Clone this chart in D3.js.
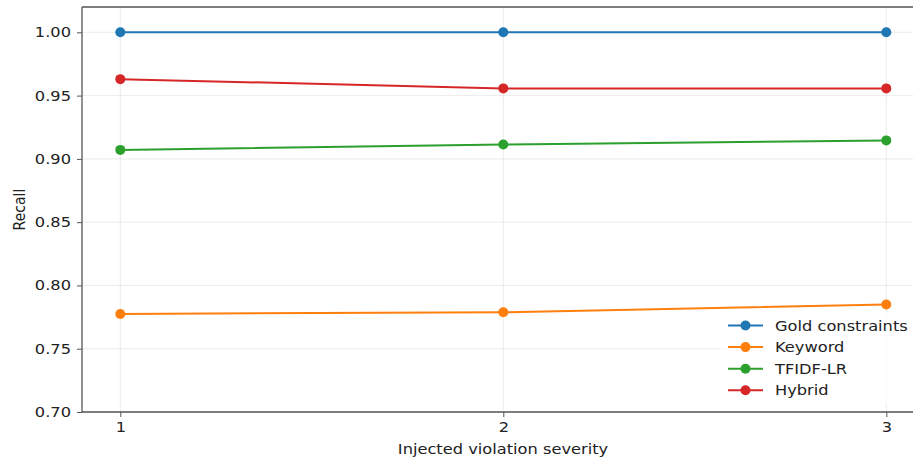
<!DOCTYPE html>
<html><head><meta charset="utf-8">
<script src="https://cdn.jsdelivr.net/npm/d3@7"></script>
<style>body{margin:0;background:#fff}svg{display:block}text{font-family:"DejaVu Sans",sans-serif}</style>
</head><body>
<script>
const severities = [1, 2, 3];
const seriesNames = ["Gold constraints", "Keyword", "TFIDF-LR", "Hybrid"];
const goldValues = [1.0, 1.0, 1.0];
const keywordValues = [0.7775, 0.7788, 0.7850];
const tfidfValues = [0.9071, 0.9114, 0.9146];
const hybridValues = [0.9630, 0.9557, 0.9557];
const colors = ["#1f77b4", "#ff7f0e", "#2ca02c", "#d62728"];
const yTicks = [0.70, 0.75, 0.80, 0.85, 0.90, 0.95, 1.00];
const xTicks = [1, 2, 3];

(function () {
const allValues = [goldValues, keywordValues, tfidfValues, hybridValues];
const W = 913, H = 459, SX = 1.16, FS = 14;
const svg = d3.select("body").append("svg").attr("width", W).attr("height", H);
const pLeft = 82, pTop = 7, pBottom = 412;
const x = d3.scaleLinear().domain([0.9, 3.1]).range([pLeft, pLeft + 383 * 2.2]);
const y = d3.scaleLinear().domain([0.70, 1.02]).range([pBottom, pTop]);

function label(px, py, str, anchor, rot) {
  return svg.append("text")
    .attr("transform", `translate(${px},${py})` + (rot ? ` rotate(${rot}) scale(1,${SX})` : ` scale(${SX},1)`))
    .attr("text-anchor", anchor).attr("font-size", FS).attr("fill", "#222").text(str);
}

// grid
const g = svg.append("g");
g.selectAll(".gy").data(yTicks).enter().append("line")
  .attr("x1", pLeft).attr("x2", W).attr("y1", d => y(d)).attr("y2", d => y(d))
  .attr("stroke", "#b0b0b0").attr("stroke-opacity", 0.3).attr("stroke-width", 0.8);
g.selectAll(".gx").data(xTicks).enter().append("line")
  .attr("y1", pTop).attr("y2", pBottom).attr("x1", d => x(d)).attr("x2", d => x(d))
  .attr("stroke", "#b0b0b0").attr("stroke-opacity", 0.3).attr("stroke-width", 0.8);

// lines
const line = d3.line().x((d, i) => x(severities[i])).y(d => y(d));
allValues.forEach((vals, k) => {
  svg.append("path").datum(vals).attr("d", line).attr("fill", "none")
    .attr("stroke", colors[k]).attr("stroke-width", 2);
  svg.selectAll(".m" + k).data(vals).enter().append("circle")
    .attr("cx", (d, i) => x(severities[i])).attr("cy", d => y(d)).attr("r", 5)
    .attr("fill", colors[k]);
});

// spines
svg.append("line").attr("x1", pLeft).attr("x2", pLeft).attr("y1", pTop).attr("y2", pBottom).attr("stroke", "#555").attr("stroke-width", 1.3);
svg.append("line").attr("x1", pLeft).attr("x2", W).attr("y1", pBottom).attr("y2", pBottom).attr("stroke", "#555").attr("stroke-width", 1.3);
svg.append("line").attr("x1", pLeft).attr("x2", W).attr("y1", pTop).attr("y2", pTop).attr("stroke", "#555").attr("stroke-width", 1.3);

// axes
const yAxis = d3.axisLeft(y).tickValues(yTicks).tickFormat(d3.format(".2f")).tickSize(5).tickPadding(6);
const ya = svg.append("g").attr("transform", `translate(${pLeft},0)`).call(yAxis);
const xAxis = d3.axisBottom(x).tickValues(xTicks).tickFormat(d3.format("d")).tickSize(5).tickPadding(5);
const xa = svg.append("g").attr("transform", `translate(0,${pBottom})`).call(xAxis);
[ya, xa].forEach(a => {
  a.select(".domain").remove();
  a.selectAll("line").attr("stroke", "#555").attr("stroke-width", 1);
  a.selectAll("text").attr("font-size", FS).attr("fill", "#222").attr("font-family", "DejaVu Sans");
});
ya.selectAll("text").attr("x", -11 / SX).attr("transform", `scale(${SX},1)`);
xa.selectAll("text").attr("transform", `scale(${SX},1)`);

label(503, 454, "Injected violation severity", "middle");
label(25, (pTop + pBottom) / 2, "Recall", "middle", -90);

// legend
const lg = svg.append("g");
lg.append("rect").attr("x", 721).attr("y", 312).attr("width", 200).attr("height", 92)
  .attr("fill", "#fff").attr("fill-opacity", 0.8).attr("stroke", "none");
seriesNames.forEach((name, k) => {
  const yy = 325.5 + k * 21.6;
  lg.append("line").attr("x1", 728).attr("x2", 763).attr("y1", yy).attr("y2", yy)
    .attr("stroke", colors[k]).attr("stroke-width", 2);
  lg.append("circle").attr("cx", 745.5).attr("cy", yy).attr("r", 5).attr("fill", colors[k]);
  svg.append("text").attr("transform", `translate(775,${yy + 5}) scale(${SX},1)`)
    .attr("font-size", FS).attr("fill", "#222").text(name);
});
})();
</script>
</body></html>
